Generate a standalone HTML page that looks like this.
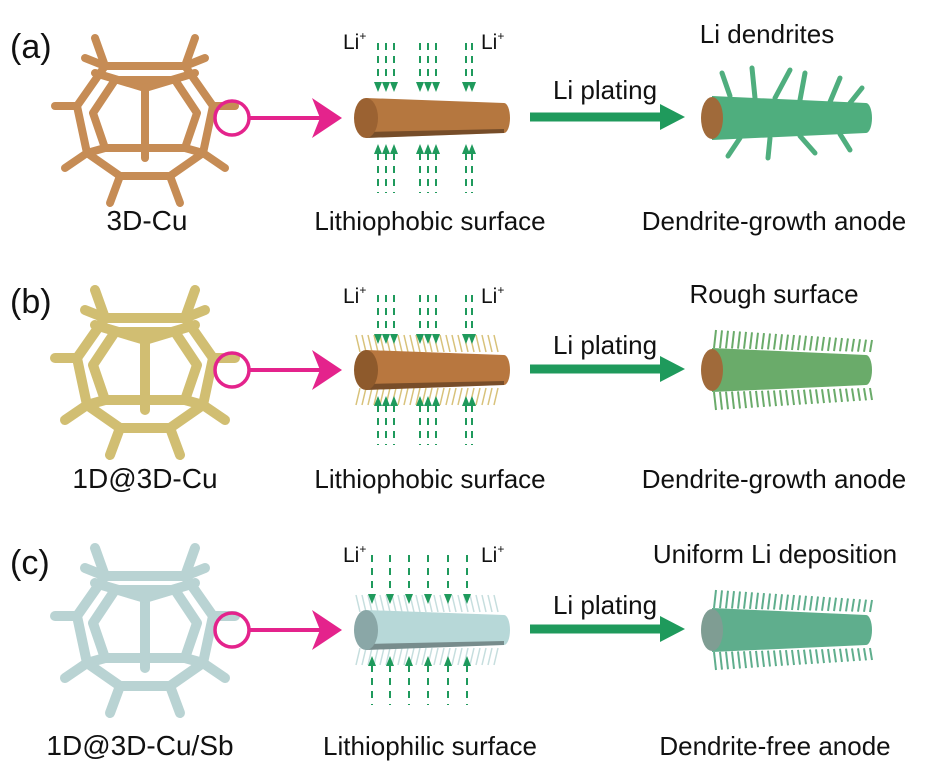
<!DOCTYPE html>
<html><head><meta charset="utf-8"><style>
html,body{margin:0;padding:0;background:#fff}
svg{display:block}
text{font-family:"Liberation Sans",sans-serif;fill:#111}
</style></head><body>
<svg id="s" width="936" height="779" viewBox="0 0 936 779" xmlns="http://www.w3.org/2000/svg">
<defs>
<g id="cage" fill="none" stroke-linecap="round" stroke-linejoin="round">
<polygon points="-40,-52 40,-52 68,-12 58,35 25,58 -25,58 -58,35 -68,-12"/>
<polygon points="-30,-38 30,-38 52,-5 40,30 -40,30 -52,-5"/>
<line x1="0" y1="-30" x2="0" y2="40"/>
<line x1="0" y1="-30" x2="-50" y2="-45"/><line x1="0" y1="-30" x2="50" y2="-45"/>
<line x1="-40" y1="-52" x2="-50" y2="-80"/><line x1="40" y1="-52" x2="50" y2="-80"/>
<line x1="-40" y1="-52" x2="-60" y2="-60"/><line x1="40" y1="-52" x2="60" y2="-60"/>
<line x1="-68" y1="-12" x2="-90" y2="-12"/><line x1="68" y1="-12" x2="90" y2="-12"/>
<line x1="-58" y1="35" x2="-80" y2="50"/><line x1="58" y1="35" x2="80" y2="50"/>
<line x1="-25" y1="58" x2="-35" y2="85"/><line x1="25" y1="58" x2="35" y2="85"/>
<line x1="-40" y1="30" x2="-58" y2="35"/><line x1="40" y1="30" x2="58" y2="35"/>
</g>
</defs>
<!-- row a -->
<text x="10" y="58" font-size="34">(a)</text>
<use href="#cage" x="145" y="118" stroke="#c68c55" stroke-width="8"/>
<text x="147" y="230" font-size="28" text-anchor="middle">3D-Cu</text>
<text x="343" y="49" font-size="21">Li<tspan font-size="12" dy="-9">+</tspan></text>
<text x="481" y="49" font-size="21">Li<tspan font-size="12" dy="-9">+</tspan></text>
<text x="430" y="230" font-size="26" text-anchor="middle">Lithiophobic surface</text>
<text x="605" y="99" font-size="26" text-anchor="middle">Li plating</text>
<text x="767" y="43" font-size="26" text-anchor="middle">Li dendrites</text>
<text x="774" y="230" font-size="26" text-anchor="middle">Dendrite-growth anode</text>
<!-- row b -->
<text x="10" y="313" font-size="34">(b)</text>
<use href="#cage" x="145" y="370" stroke="#c9b35a" stroke-width="10" opacity="0.85"/>
<text x="145" y="488" font-size="28" text-anchor="middle">1D@3D-Cu</text>
<text x="343" y="303" font-size="21">Li<tspan font-size="12" dy="-9">+</tspan></text>
<text x="481" y="303" font-size="21">Li<tspan font-size="12" dy="-9">+</tspan></text>
<text x="430" y="488" font-size="26" text-anchor="middle">Lithiophobic surface</text>
<text x="605" y="354" font-size="26" text-anchor="middle">Li plating</text>
<text x="774" y="303" font-size="26" text-anchor="middle">Rough surface</text>
<text x="774" y="488" font-size="26" text-anchor="middle">Dendrite-growth anode</text>
<!-- row c -->
<text x="10" y="574" font-size="34">(c)</text>
<use href="#cage" x="145" y="628" stroke="#b9d3d3" stroke-width="10"/>
<text x="140" y="755" font-size="28" text-anchor="middle">1D@3D-Cu/Sb</text>
<text x="343" y="562" font-size="21">Li<tspan font-size="12" dy="-9">+</tspan></text>
<text x="481" y="562" font-size="21">Li<tspan font-size="12" dy="-9">+</tspan></text>
<text x="430" y="755" font-size="26" text-anchor="middle">Lithiophilic surface</text>
<text x="605" y="614" font-size="26" text-anchor="middle">Li plating</text>
<text x="775" y="563" font-size="26" text-anchor="middle">Uniform Li deposition</text>
<text x="775" y="755" font-size="26" text-anchor="middle">Dendrite-free anode</text>
<g id="dyn"></g>
</svg>
<script>
var d=document.getElementById('dyn'),h='';
function L(x1,y1,x2,y2,c,w,ex){h+='<line x1="'+x1+'" y1="'+y1+'" x2="'+x2+'" y2="'+y2+'" stroke="'+c+'" stroke-width="'+w+'" '+(ex||'')+'/>';}
var rows=[[118,'#b5773f','#9b6232',0],[370,'#b8773f','#8e5a2c',1],[630,'#b7d8d8','#8aa7a7',2]];
rows.forEach(function(r){
 var y=r[0];
 h+='<circle cx="232" cy="'+y+'" r="17" fill="none" stroke="#e4238c" stroke-width="3.5"/>';
 L(249,y,322,y,'#e4238c',4);
 h+='<polygon points="312,'+(y-20)+' 342,'+y+' 312,'+(y+20)+' 320,'+y+'" fill="#e4238c"/>';
 L(530,y-1,662,y-1,'#1f9a5c',9);
 h+='<polygon points="660,'+(y-14)+' 685,'+(y-1)+' 660,'+(y+12)+'" fill="#1f9a5c"/>';
 if(r[3]>0){var sc=r[3]==1?'#d8c27a':'#c6dede';
  for(var x=360;x<=500;x+=6){L(x,y-18,x-4,y-35,sc,1.5);L(x,y+18,x-4,y+35,sc,1.5);}}
 h+='<path d="M366,'+(y-20)+' L504,'+(y-15)+' A6,15 0 0 1 504,'+(y+15)+' L366,'+(y+20)+' Z" fill="'+r[1]+'"/>';
 h+='<path d="M366,'+(y+14)+' L504,'+(y+11)+' L504,'+(y+15)+' L366,'+(y+20)+' Z" fill="#000" opacity="0.35"/>';
 h+='<ellipse cx="366" cy="'+y+'" rx="12" ry="20" fill="'+r[2]+'"/>';
 var xs=r[3]<2?[378,386,394,420,428,436,466,472]:[372,390,409,428,448,467];
 xs.forEach(function(x){
  L(x,y-75,x,y-35,'#1f9a5c',2,'stroke-dasharray="7,6"');
  h+='<polygon points="'+(x-4)+','+(y-36)+' '+(x+4)+','+(y-36)+' '+x+','+(y-26)+'" fill="#1f9a5c"/>';
  L(x,y+35,x,y+75,'#1f9a5c',2,'stroke-dasharray="7,6"');
  h+='<polygon points="'+(x-4)+','+(y+36)+' '+(x+4)+','+(y+36)+' '+x+','+(y+26)+'" fill="#1f9a5c"/>';
 });
 var gc=r[3]==0?'#4fae7e':(r[3]==1?'#6aab6a':'#5fae8d');
 if(r[3]>0){for(var x=714;x<=870;x+=6){var k=(x-714)/156;L(x,y-22+4*k,x+2,y-40+10*k,gc,2);L(x,y+22-4*k,x+2,y+40-10*k,gc,2);}}
 else{[[730,-22,722,-45],[755,-20,752,-50],[775,-20,790,-48],[800,-18,805,-45],[830,-16,840,-40],[850,-15,862,-30],[740,20,728,38],[770,20,768,40],[800,18,815,35],[840,16,850,32]].forEach(function(p){L(p[0],y+p[1],p[2],y+p[3],gc,5,'stroke-linecap="round"');});}
 h+='<path d="M712,'+(y-22)+' L866,'+(y-15)+' A6,15 0 0 1 866,'+(y+15)+' L712,'+(y+22)+' Z" fill="'+gc+'"/>';
 h+='<ellipse cx="712" cy="'+y+'" rx="11" ry="21" fill="'+(r[3]==2?'#7f9d93':'#a06a3a')+'"/>';
});
d.innerHTML=h;
</script>
</body></html>
